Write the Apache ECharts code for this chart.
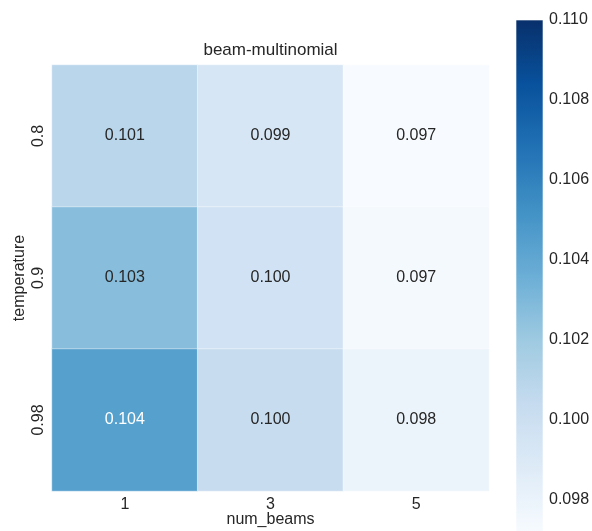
<!DOCTYPE html>
<html>
<head>
<meta charset="utf-8">
<script src="https://cdn.jsdelivr.net/npm/echarts@6/dist/echarts.min.js"></script>
<style>html,body{margin:0;padding:0;background:#fff;}#chart{width:592px;height:531px;}</style>
</head>
<body>
<div id="chart"></div>
<script>
const numBeams = ['1', '3', '5'];
const temperatures = ['0.8', '0.9', '0.98'];
// rows follow temperatures, columns follow numBeams
const row08 = [0.1009, 0.0993, 0.0972];
const row09 = [0.1027, 0.0997, 0.0974];
const row098 = [0.1044, 0.1003, 0.0979];
const colorbarTicks = [0.098, 0.100, 0.102, 0.104, 0.106, 0.108, 0.110];
const vMin = 0.0972;
const vMax = 0.110;
const blues = ['#f7fbff', '#deebf7', '#c6dbef', '#9ecae1', '#6baed6', '#4292c6', '#2171b5', '#08519c', '#08306b'];

const rows = [row08, row09, row098];
const data = [];
rows.forEach((r, yi) => r.forEach((v, xi) => {
  data.push({ value: [xi, yi, v], label: { color: v > (vMin + vMax) / 2 ? '#ffffff' : '#262626' } });
}));

const font = 'Liberation Sans, Arial, sans-serif';
const cbLeft = 516, cbTop = 20, cbWidth = 27, cbHeight = 512;
const chart = echarts.init(document.getElementById('chart'), null, { renderer: 'canvas' });
chart.setOption({
  backgroundColor: '#ffffff',
  animation: false,
  textStyle: { fontFamily: font },
  graphic: [
    {
      type: 'text', x: 270.5, y: 42,
      style: { text: 'beam-multinomial', fontSize: 17, fontFamily: font, fill: '#262626', align: 'center', verticalAlign: 'top' }
    },
    {
      type: 'rect', shape: { x: cbLeft, y: cbTop, width: cbWidth, height: cbHeight },
      style: {
        fill: new echarts.graphic.LinearGradient(0, 1, 0, 0,
          blues.map((c, i) => ({ offset: i / (blues.length - 1), color: c }))),
        stroke: 'rgba(255,255,255,0.6)', lineWidth: 1
      },
      z: 0
    }
  ],
  grid: [
    { left: 52, top: 65, width: 437, height: 426, outerBoundsMode: 'none', containLabel: false },
    { left: cbLeft, top: cbTop, width: cbWidth, height: cbHeight, outerBoundsMode: 'none', containLabel: false }
  ],
  xAxis: [
    {
      type: 'category', data: numBeams, gridIndex: 0, position: 'bottom',
      axisLine: { show: false }, axisTick: { show: false }, splitLine: { show: false },
      axisLabel: { fontSize: 16, color: '#262626', margin: 6, fontFamily: font },
      name: 'num_beams', nameLocation: 'middle', nameGap: 21, nameMoveOverlap: false,
      nameTextStyle: { fontSize: 16, color: '#262626', fontFamily: font }
    },
    { type: 'value', gridIndex: 1, show: false }
  ],
  yAxis: [
    {
      type: 'category', data: temperatures, gridIndex: 0, inverse: true,
      axisLine: { show: false }, axisTick: { show: false }, splitLine: { show: false },
      axisLabel: { fontSize: 16, color: '#262626', rotate: 90, margin: 5, fontFamily: font },
      name: 'temperature', nameLocation: 'middle', nameGap: 24, nameRotate: 90, nameMoveOverlap: false,
      nameTextStyle: { fontSize: 16, color: '#262626', fontFamily: font }
    },
    {
      type: 'value', gridIndex: 1, min: vMin, max: vMax, position: 'right',
      axisLine: { show: false }, axisTick: { show: false }, splitLine: { show: false },
      axisLabel: {
        customValues: colorbarTicks, fontSize: 16, color: '#262626', margin: 6, fontFamily: font,
        formatter: v => Number(v).toFixed(3)
      }
    }
  ],
  visualMap: {
    type: 'continuous', show: false, min: vMin, max: vMax, seriesIndex: 0,
    inRange: { color: blues }
  },
  series: [{
    type: 'heatmap', xAxisIndex: 0, yAxisIndex: 0, data: data,
    itemStyle: { borderColor: 'rgba(255,255,255,0.45)', borderWidth: 1 },
    label: { show: true, fontSize: 16, fontFamily: font, formatter: p => p.value[2].toFixed(3) },
    emphasis: { disabled: true }
  }]
});
</script>
</body>
</html>
